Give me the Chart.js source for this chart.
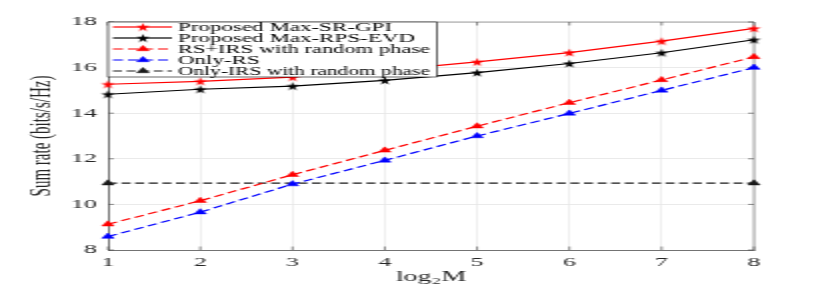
<!DOCTYPE html>
<html>
<head>
<meta charset="utf-8">
<script src="https://cdn.jsdelivr.net/npm/chart.js@4.4.0/dist/chart.umd.min.js"></script>
<style>
html, body { margin: 0; padding: 0; background: #fff; overflow: hidden; }
/* the figure is drawn at half width and stretched, like the reference */
#wrap { width: 415px; height: 291px; transform: scaleX(2); transform-origin: 0 0; }
</style>
</head>
<body>
<div id="wrap"><canvas id="rateChart" width="415" height="291"></canvas></div>
<script>
var xLabels = ['1', '2', '3', '4', '5', '6', '7', '8'];
var yTicks = [8, 10, 12, 14, 16, 18];

var srGpi = [15.27, 15.40, 15.58, 15.88, 16.25, 16.66, 17.16, 17.72];
var rpsEvd = [14.83, 15.05, 15.19, 15.44, 15.78, 16.18, 16.65, 17.22];
var rsIrsRandom = [9.13, 10.16, 11.30, 12.37, 13.43, 14.46, 15.46, 16.47];
var onlyRs = [8.59, 9.66, 10.89, 11.93, 13.00, 13.99, 15.00, 16.00];
var onlyIrsRandom = [10.93, null, null, null, null, null, null, 10.93];

var serif = '"Liberation Serif", "Times New Roman", serif';
var axisColor = '#262626';

// filled five-pointed star used as marker
function makeStar(color) {
    var c = document.createElement('canvas');
    c.width = 11; c.height = 11;
    var g = c.getContext('2d');
    g.beginPath();
    for (var k = 0; k < 10; k++) {
        var ang = -Math.PI / 2 + k * Math.PI / 5;
        var r = (k % 2 === 0) ? 1 : 0.382;
        var px = 5.5 + 3.5 * r * Math.cos(ang);
        var py = 6 + 4.5 * r * Math.sin(ang);
        if (k === 0) g.moveTo(px, py); else g.lineTo(px, py);
    }
    g.closePath();
    g.fillStyle = color;
    g.fill();
    return c;
}

function series(label, data, color, dash, marker) {
    return {
        label: label,
        data: data,
        borderColor: color,
        backgroundColor: color,
        borderWidth: 1.2,
        borderDash: dash,
        pointStyle: marker === 'star' ? makeStar(color) : 'triangle',
        pointRadius: 3.5,
        pointBackgroundColor: color,
        pointBorderColor: color,
        pointBorderWidth: 0.5,
        spanGaps: true,
        clip: false,
        tension: 0
    };
}

var boxAndTicks = {
    id: 'boxAndTicks',
    beforeDatasetsDraw: function(chart) {
        var ctx = chart.ctx, a = chart.chartArea;
        var xs = chart.scales.x, ys = chart.scales.y;
        ctx.save();
        ctx.strokeStyle = '#8a8a8a';
        ctx.lineWidth = 0.8;
        ctx.beginPath();
        ctx.moveTo(a.left, a.top); ctx.lineTo(a.right, a.top); ctx.lineTo(a.right, a.bottom);
        ctx.stroke();
        ctx.strokeStyle = '#444';
        ctx.lineWidth = 0.6;
        ctx.beginPath();
        xs.ticks.forEach(function(t, i) {
            var px = xs.getPixelForTick(i);
            ctx.moveTo(px, a.bottom); ctx.lineTo(px, a.bottom - 3.5);
            ctx.moveTo(px, a.top); ctx.lineTo(px, a.top + 3.5);
        });
        ys.ticks.forEach(function(t, i) {
            var py = ys.getPixelForTick(i);
            ctx.moveTo(a.left, py); ctx.lineTo(a.left + 3, py);
            ctx.moveTo(a.right, py); ctx.lineTo(a.right - 3, py);
        });
        ctx.stroke();
        ctx.restore();
    }
};

var legendBox = {
    id: 'legendBox',
    afterDatasetsDraw: function(chart) {
        var ctx = chart.ctx, a = chart.chartArea;
        var left = a.left, top = a.top;
        ctx.save();
        ctx.fillStyle = '#fff';
        ctx.fillRect(left, top, 164.5, 55);
        ctx.strokeStyle = '#000';
        ctx.lineWidth = 0.6;
        ctx.strokeRect(left, top, 164.5, 55);
        chart.data.datasets.forEach(function(ds, i) {
            var y = top + 5 + i * 11;
            ctx.strokeStyle = ds.borderColor;
            ctx.lineWidth = ds.borderWidth;
            ctx.setLineDash(ds.borderDash || []);
            ctx.beginPath();
            ctx.moveTo(left + 2.5, y); ctx.lineTo(left + 32, y);
            ctx.stroke();
            ctx.setLineDash([]);
            ctx.fillStyle = ds.pointBackgroundColor;
            ctx.strokeStyle = ds.pointBorderColor;
            ctx.lineWidth = ds.pointBorderWidth;
            Chart.helpers.drawPoint(ctx, {
                pointStyle: ds.pointStyle, radius: ds.pointRadius, rotation: 0, borderWidth: ds.pointBorderWidth
            }, left + 17.5, y);
            ctx.fillStyle = '#000';
            ctx.font = '11.5px ' + serif;
            ctx.textBaseline = 'middle';
            ctx.textAlign = 'left';
            ctx.fillText(ds.label, left + 35, y + 0.5, 126);
        });
        ctx.restore();
    }
};

var ctx = document.getElementById('rateChart').getContext('2d');
var rateChart = new Chart(ctx, {
    type: 'line',
    data: {
        labels: xLabels,
        datasets: [
            series('Proposed Max-SR-GPI', srGpi, '#ff0000', [], 'star'),
            series('Proposed Max-RPS-EVD', rpsEvd, '#000000', [], 'star'),
            series('RS+IRS with random phase', rsIrsRandom, '#ff0000', [5, 2.5], 'triangle'),
            series('Only-RS', onlyRs, '#0000ff', [5, 2.5], 'triangle'),
            series('Only-IRS with random phase', onlyIrsRandom, '#1a1a1a', [4.5, 2.3], 'triangle')
        ]
    },
    options: {
        responsive: false,
        animation: false,
        layout: { padding: { left: 0, right: 38, top: 22, bottom: 0 } },
        plugins: {
            legend: { display: false },
            tooltip: { enabled: false }
        },
        scales: {
            x: {
                offset: false,
                grid: { color: '#e4e4e4', lineWidth: 0.6, drawTicks: false },
                border: { color: '#555', width: 0.8 },
                ticks: { font: { family: serif, size: 13 }, color: axisColor, padding: 5, maxRotation: 0 },
                title: {
                    display: true, text: 'log₂M', color: axisColor,
                    font: { family: serif, size: 14 }, padding: { top: 0, bottom: 5.6 }
                },
                afterFit: function(s) { s.height = 41; }
            },
            y: {
                min: yTicks[0],
                max: yTicks[yTicks.length - 1],
                grid: { color: '#e4e4e4', lineWidth: 0.8, drawTicks: false },
                border: { color: '#555', width: 0.8 },
                ticks: { stepSize: yTicks[1] - yTicks[0], font: { family: serif, size: 13 }, color: axisColor, padding: 5.5 },
                title: {
                    display: true, text: 'Sum rate (bits/s/Hz)', color: axisColor,
                    font: { family: serif, size: 15 }, padding: { top: 12.5, bottom: 0 }
                },
                afterFit: function(s) { s.width = 54; }
            }
        }
    },
    plugins: [boxAndTicks, legendBox]
});
</script>
</body>
</html>
